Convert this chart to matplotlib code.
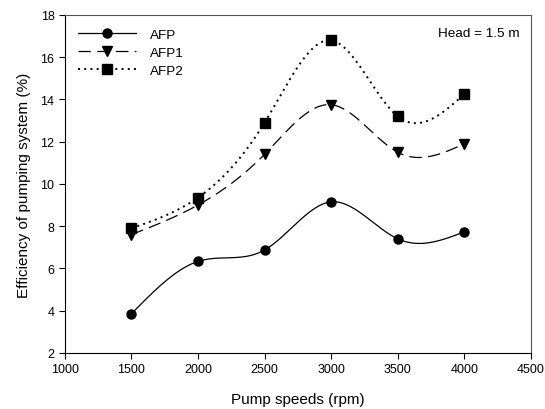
import numpy as np
import matplotlib
matplotlib.use('Agg')
import matplotlib.pyplot as plt

plt.rcParams['font.family'] = ['Liberation Sans', 'DejaVu Sans']
plt.rcParams['font.size'] = 9.5

# Datos
speeds = [1500, 2000, 2500, 3000, 3500, 4000]
afp = [3.85, 6.33, 6.87, 9.15, 7.4, 7.73]
afp1 = [7.6, 9.0, 11.4, 13.75, 11.5, 11.9]
afp2 = [7.9, 9.35, 12.9, 16.8, 13.2, 14.25]


def spline(x, y, n=300):
    # spline cubico natural para dibujar la curva suave
    x = np.asarray(x, float)
    y = np.asarray(y, float)
    m = len(x)
    h = np.diff(x)
    A = np.zeros((m, m))
    b = np.zeros(m)
    A[0, 0] = A[-1, -1] = 1
    for i in range(1, m - 1):
        A[i, i - 1] = h[i - 1]
        A[i, i] = 2 * (h[i - 1] + h[i])
        A[i, i + 1] = h[i]
        b[i] = 6 * ((y[i + 1] - y[i]) / h[i] - (y[i] - y[i - 1]) / h[i - 1])
    M = np.linalg.solve(A, b)
    xs = np.linspace(x[0], x[-1], n)
    idx = np.clip(np.searchsorted(x, xs) - 1, 0, m - 2)
    t0 = x[idx + 1] - xs
    t1 = xs - x[idx]
    hi = h[idx]
    ys = (M[idx] * t0**3 + M[idx + 1] * t1**3) / (6 * hi) \
        + (y[idx] / hi - M[idx] * hi / 6) * t0 \
        + (y[idx + 1] / hi - M[idx + 1] * hi / 6) * t1
    return xs, ys


fig = plt.figure(figsize=(5.45, 4.1), dpi=100)
ax = fig.add_axes([0.119, 0.137, 0.855, 0.824])

series = [
    ('AFP', afp, 'o', '-', 0.9),
    ('AFP1', afp1, 'v', (0, (10, 5)), 0.9),
    ('AFP2', afp2, 's', (0, (1, 2.2)), 1.4),
]
for name, vals, mk, ls, lw in series:
    xs, ys = spline(speeds, vals)
    ax.plot(xs, ys, color='black', lw=lw, ls=ls)
    ax.plot(speeds, vals, ls='none', marker=mk, color='black', ms=6.5)
    ax.plot([], [], color='black', lw=lw, ls=ls, marker=mk, ms=6.5, label=name)

ax.set_xlim(1000, 4500)
ax.set_ylim(2, 18)
ax.set_xticks(range(1000, 4501, 500))
ax.set_yticks(range(2, 19, 2))
ax.tick_params(direction='out', length=4, width=0.8, labelsize=9)
for s in ['top', 'right']:
    ax.spines[s].set_color('#555555')
    ax.spines[s].set_linewidth(0.8)

ax.set_xlabel('Pump speeds (rpm)', fontsize=11, labelpad=12)
ax.set_ylabel('Efficiency of pumping system (%)', fontsize=11, labelpad=7)
ax.text(0.975, 0.965, 'Head = 1.5 m', transform=ax.transAxes, ha='right', va='top',
        fontsize=9.7)
ax.legend(loc='upper left', frameon=False, handlelength=4.3, borderaxespad=0.6,
          labelspacing=0.42, handletextpad=1.0, fontsize=9.7)

plt.savefig('out.png', dpi=100)
